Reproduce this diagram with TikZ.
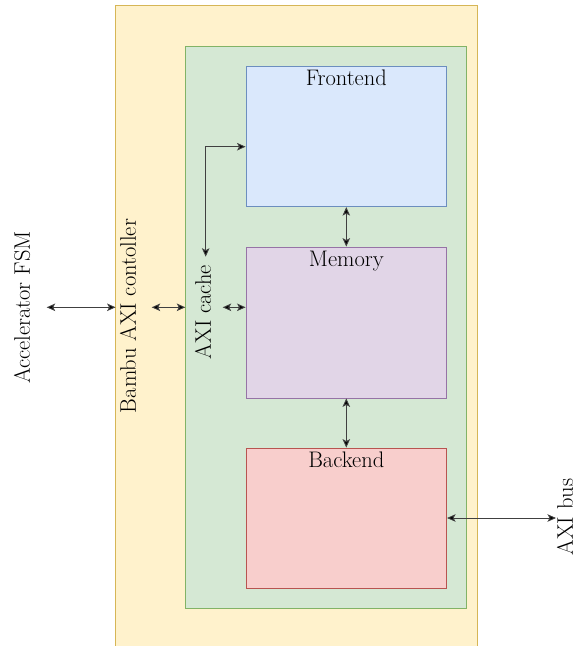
\documentclass[tikz,border=0pt]{standalone}
\usetikzlibrary{arrows.meta}
\definecolor{ylwF}{HTML}{FFF2CC}\definecolor{ylwD}{HTML}{D6B656}
\definecolor{grnF}{HTML}{D5E8D4}\definecolor{grnD}{HTML}{82B366}
\definecolor{bluF}{HTML}{DAE8FC}\definecolor{bluD}{HTML}{6C8EBF}
\definecolor{purF}{HTML}{E1D5E7}\definecolor{purD}{HTML}{9673A6}
\definecolor{redF}{HTML}{F8CECC}\definecolor{redD}{HTML}{B85450}
\begin{document}
\begin{tikzpicture}[x=1pt,y=-1pt,
  every node/.style={font=\fontsize{22.5}{26}\selectfont},
  blockbox/.style={rectangle,inner sep=0pt,line width=0.8pt},
  biarrow/.style={draw=black!75,line width=0.9pt,{Stealth[length=8.5pt,width=7.5pt,inset=2pt,fill=black]}-{Stealth[length=8.5pt,width=7.5pt,inset=2pt,fill=black]}},
  vlabel/.style={rotate=90,inner sep=0pt}]
\useasboundingbox (0,0) rectangle (576,646);
% outer controller
\node[blockbox,fill=ylwF,minimum width=361pt,minimum height=640pt] (ctrl) at (296.5,326) {};
\draw[ylwD,line width=0.8pt] (ctrl.south west) -- (ctrl.north west) -- (ctrl.north east) -- (ctrl.south east);
% cache
\node[blockbox,fill=grnF,draw=grnD,minimum width=281pt,minimum height=561.6pt] (cache) at (326.2,327.5) {};
% inner blocks
\node[blockbox,fill=bluF,draw=bluD,minimum width=200.7pt,minimum height=140pt,
  label={[anchor=base,yshift=-19.5pt,inner sep=0pt]north:Frontend}] (front) at (346.3,136.7) {};
\node[blockbox,fill=purF,draw=purD,minimum width=200.7pt,minimum height=151pt,
  label={[anchor=base,yshift=-19.5pt,inner sep=0pt]north:Memory}] (mem) at (346.3,322.5) {};
\node[blockbox,fill=redF,draw=redD,minimum width=200.7pt,minimum height=140pt,
  label={[anchor=base,yshift=-19.5pt,inner sep=0pt]north:Backend}] (back) at (346.3,518) {};
% vertical labels
\node[vlabel] (accel) at (22,307.5) {Accelerator FSM};
\node[vlabel] (bambu) at (128,316) {Bambu AXI contoller};
\node[vlabel] (axic) at (203,312) {AXI cache};
\node[vlabel] (bus) at (565,517) {AXI bus};
% connector anchors
\coordinate (a1) at (46.7,307.3);
\coordinate (a2) at (151.7,307.3);
\coordinate (a3) at (222.7,307.3);
\coordinate (elb) at (205.7,146.7);
\coordinate (ctop) at (205.7,256.7);
\coordinate (busend) at (556,518);
% connectors
\draw[biarrow] (a1) -- (a1 -| ctrl.west);
\draw[biarrow] (a2) -- (a2 -| cache.west);
\draw[biarrow] (a3) -- (a3 -| mem.west);
\draw[biarrow] (ctop) |- (front.west |- elb);
\draw[biarrow] (front.south) -- (mem.north);
\draw[biarrow] (mem.south) -- (back.north);
\draw[biarrow] (back.east) -- (busend);
\end{tikzpicture}
\end{document}
